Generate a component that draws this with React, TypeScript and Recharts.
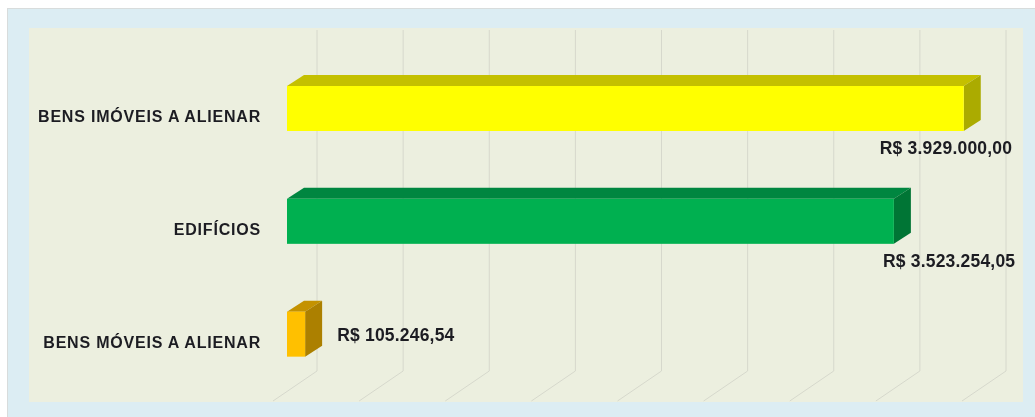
import * as React from "react";
import { Bar, BarChart, CartesianGrid, LabelList, XAxis, YAxis } from "recharts";

const categories = ["BENS IMÓVEIS A ALIENAR", "EDIFÍCIOS", "BENS MÓVEIS A ALIENAR"];
const values = [3929000.0, 3523254.05, 105246.54];
const valueLabels = ["R$ 3.929.000,00", "R$ 3.523.254,05", "R$ 105.246,54"];
const axisTicks = [0, 500000, 1000000, 1500000, 2000000, 2500000, 3000000, 3500000, 4000000];

const frontColors = ["#FFFF00", "#00B050", "#FFC000"];
const topColors = ["#C4C000", "#008640", "#C49200"];
const sideColors = ["#ABAB00", "#007535", "#AC8000"];
// label anchor start, relative to the bar's end / top
const labelOffsets = [
  { dx: -84, dy: 68 },
  { dx: -11, dy: 68 },
  { dx: 32, dy: 29 },
];

const data = categories.map((name, i) => ({ name, value: values[i], label: valueLabels[i] }));

const DEPTH_X = 17;
const DEPTH_Y = 11;

function Box3D(props: any) {
  const { x, y, width, height, index } = props;
  const r = x + width;
  const b = y + height;
  return (
    <g>
      <polygon
        points={`${x},${y} ${x + DEPTH_X},${y - DEPTH_Y} ${r + DEPTH_X},${y - DEPTH_Y} ${r},${y}`}
        fill={topColors[index]}
      />
      <polygon
        points={`${r},${y} ${r + DEPTH_X},${y - DEPTH_Y} ${r + DEPTH_X},${b - DEPTH_Y} ${r},${b}`}
        fill={sideColors[index]}
      />
      <rect x={x} y={y} width={width} height={height} fill={frontColors[index]} />
    </g>
  );
}

// gridline on the back wall that folds onto the floor
function renderGridLine(props: any) {
  const { x1, key } = props;
  return (
    <path
      key={key}
      d={`M${x1 + 30} 30 L${x1 + 30} 371 L${x1 - 14} 401`}
      fill="none"
      stroke="#D6D8CC"
      strokeWidth={1}
    />
  );
}

function CategoryTick(props: any) {
  const { x, y, payload } = props;
  return (
    <text
      x={x}
      y={y + 14}
      textAnchor="end"
      fontFamily="'Liberation Sans', Arial, sans-serif"
      fontWeight="bold"
      fontSize={16}
      letterSpacing={0.8}
      fill="#1c1c22"
    >
      {payload.value}
    </text>
  );
}

function ValueLabel(props: any) {
  const { x, y, width, index } = props;
  const off = labelOffsets[index];
  return (
    <text
      x={x + width + off.dx}
      y={y + off.dy}
      fontFamily="'Liberation Sans', Arial, sans-serif"
      fontWeight="bold"
      fontSize={17.5}
      letterSpacing={0.2}
      fill="#1c1c22"
    >
      {valueLabels[index]}
    </text>
  );
}

export default function App() {
  return (
    <div style={{ position: "absolute", left: 0, top: 0, width: 1035, height: 417, background: "#fff", overflow: "hidden" }}>
      <div
        style={{
          position: "absolute",
          left: 7,
          top: 8,
          width: 1028,
          height: 409,
          boxSizing: "border-box",
          background: "#DCEDF3",
          borderTop: "1px solid #D8DCDC",
          borderLeft: "1px solid #D8DCDC",
        }}
      />
      <div style={{ position: "absolute", left: 29, top: 28, width: 994, height: 374, background: "#ECEFDF" }} />
      <div style={{ position: "absolute", left: 0, top: 0, filter: "blur(0.4px)" }}>
        <BarChart
          width={1035}
          height={417}
          data={data}
          layout="vertical"
          barCategoryGap={0}
          margin={{ top: 52, right: 59, bottom: 26.5, left: 0 }}
        >
          <CartesianGrid horizontal={false} verticalValues={axisTicks} vertical={renderGridLine} />
          <XAxis type="number" domain={[0, 4000000]} ticks={axisTicks} interval={0} hide />
          <YAxis
            type="category"
            dataKey="name"
            width={287}
            axisLine={false}
            tickLine={false}
            tickMargin={20}
            interval={0}
            tick={<CategoryTick />}
          />
          <Bar dataKey="value" barSize={45} shape={<Box3D />} isAnimationActive={false}>
            <LabelList dataKey="label" content={<ValueLabel />} />
          </Bar>
        </BarChart>
      </div>
    </div>
  );
}
